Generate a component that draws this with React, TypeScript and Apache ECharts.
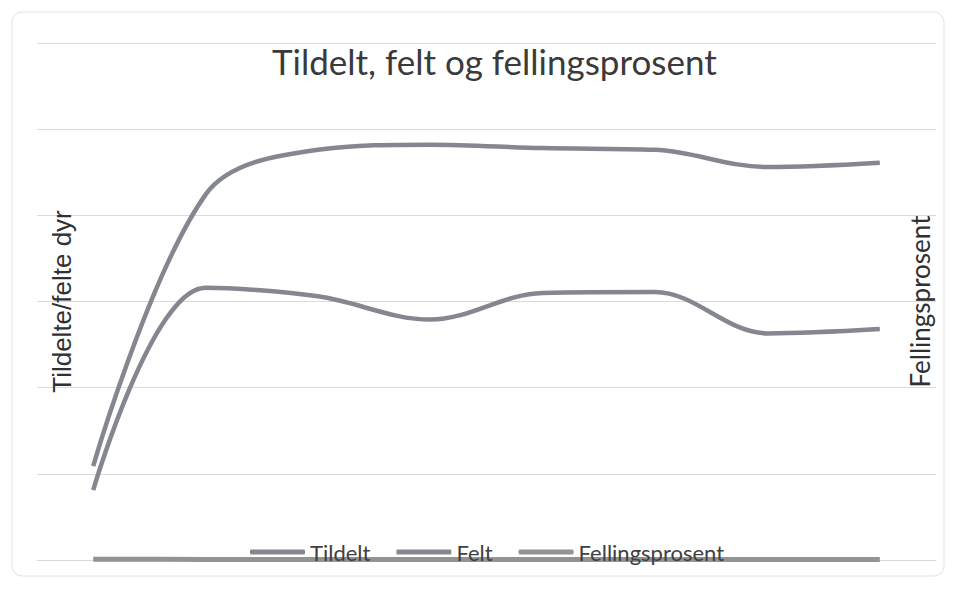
import React, { useEffect, useRef } from "react";
import * as echarts from "echarts";

const categories = ["1", "2", "3", "4", "5", "6", "7", "8"];
const tildelt = [109, 424, 476, 482, 478, 476, 456, 461];
const felt = [81, 316, 306, 279, 310, 311, 263, 268];
const fellingsprosent = [0.74, 0.72, 0.65, 0.58, 0.65, 0.65, 0.58, 0.58];
const seriesNames = ["Tildelt", "Felt", "Fellingsprosent"];

export default function App() {
  const ref = useRef<HTMLDivElement>(null);
  useEffect(() => {
    if (!ref.current) return;
    const chart = echarts.init(ref.current, null, { renderer: "svg" });
    const lineColor = "#84878f";
    chart.setOption({
      animation: false,
      backgroundColor: "#ffffff",
      title: {
        text: "Tildelt, felt og fellingsprosent",
        left: 267,
        top: 38,
        textStyle: { fontFamily: "Lato", fontSize: 35, fontWeight: "normal", color: "#3a3a3a" },
      },
      legend: {
        data: seriesNames,
        left: 245,
        top: 536,
        icon: "roundRect",
        itemWidth: 55,
        itemHeight: 5,
        itemGap: 26,
        textStyle: { fontFamily: "Lato", fontSize: 22, color: "#404040" },
      },
      graphic: [
        {
          type: "rect",
          shape: { x: 12, y: 12, width: 932, height: 564, r: 10 },
          style: { fill: "none", stroke: "#e2e2e2", lineWidth: 1 },
          z: -1,
        },
      ],
      grid: { left: 37, right: 20, top: 43, bottom: 29 },
      xAxis: {
        type: "category",
        data: categories,
        boundaryGap: true,
        axisLine: { show: true, lineStyle: { color: "#d9d9d9" } },
        axisTick: { show: false },
        axisLabel: { show: false },
      },
      yAxis: [
        {
          type: "value",
          min: 0,
          max: 600,
          interval: 100,
          name: "Tildelte/felte dyr",
          nameLocation: "middle",
          nameRotate: 90,
          nameGap: -38,
          nameTextStyle: { fontFamily: "Liberation Sans", fontSize: 26, color: "#303030" },
          axisLabel: { show: false },
          axisLine: { show: false },
          axisTick: { show: false },
          splitLine: { lineStyle: { color: "#dadada", width: 1 } },
        },
        {
          type: "value",
          min: 0,
          max: 600,
          interval: 100,
          position: "right",
          name: "Fellingsprosent",
          nameLocation: "middle",
          nameRotate: 90,
          nameGap: -29,
          nameTextStyle: { fontFamily: "Lato", fontSize: 26, color: "#303030" },
          axisLabel: { show: false },
          axisLine: { show: false },
          axisTick: { show: false },
          splitLine: { show: false },
        },
      ],
      series: [
        {
          name: seriesNames[0],
          type: "line",
          data: tildelt,
          smooth: 0.35,
          showSymbol: false,
          lineStyle: { color: lineColor, width: 4.5 },
          itemStyle: { color: lineColor },
        },
        {
          name: seriesNames[1],
          type: "line",
          data: felt,
          smooth: 0.35,
          showSymbol: false,
          lineStyle: { color: lineColor, width: 4.5 },
          itemStyle: { color: lineColor },
        },
        {
          name: seriesNames[2],
          type: "line",
          data: fellingsprosent,
          smooth: 0.35,
          showSymbol: false,
          lineStyle: { color: "#939393", width: 5 },
          itemStyle: { color: "#939393" },
        },
      ],
    });
    return () => chart.dispose();
  }, []);
  return (
    <div
      ref={ref}
      style={{ position: "fixed", left: 0, top: 0, width: 956, height: 589, background: "#fff" }}
    />
  );
}
